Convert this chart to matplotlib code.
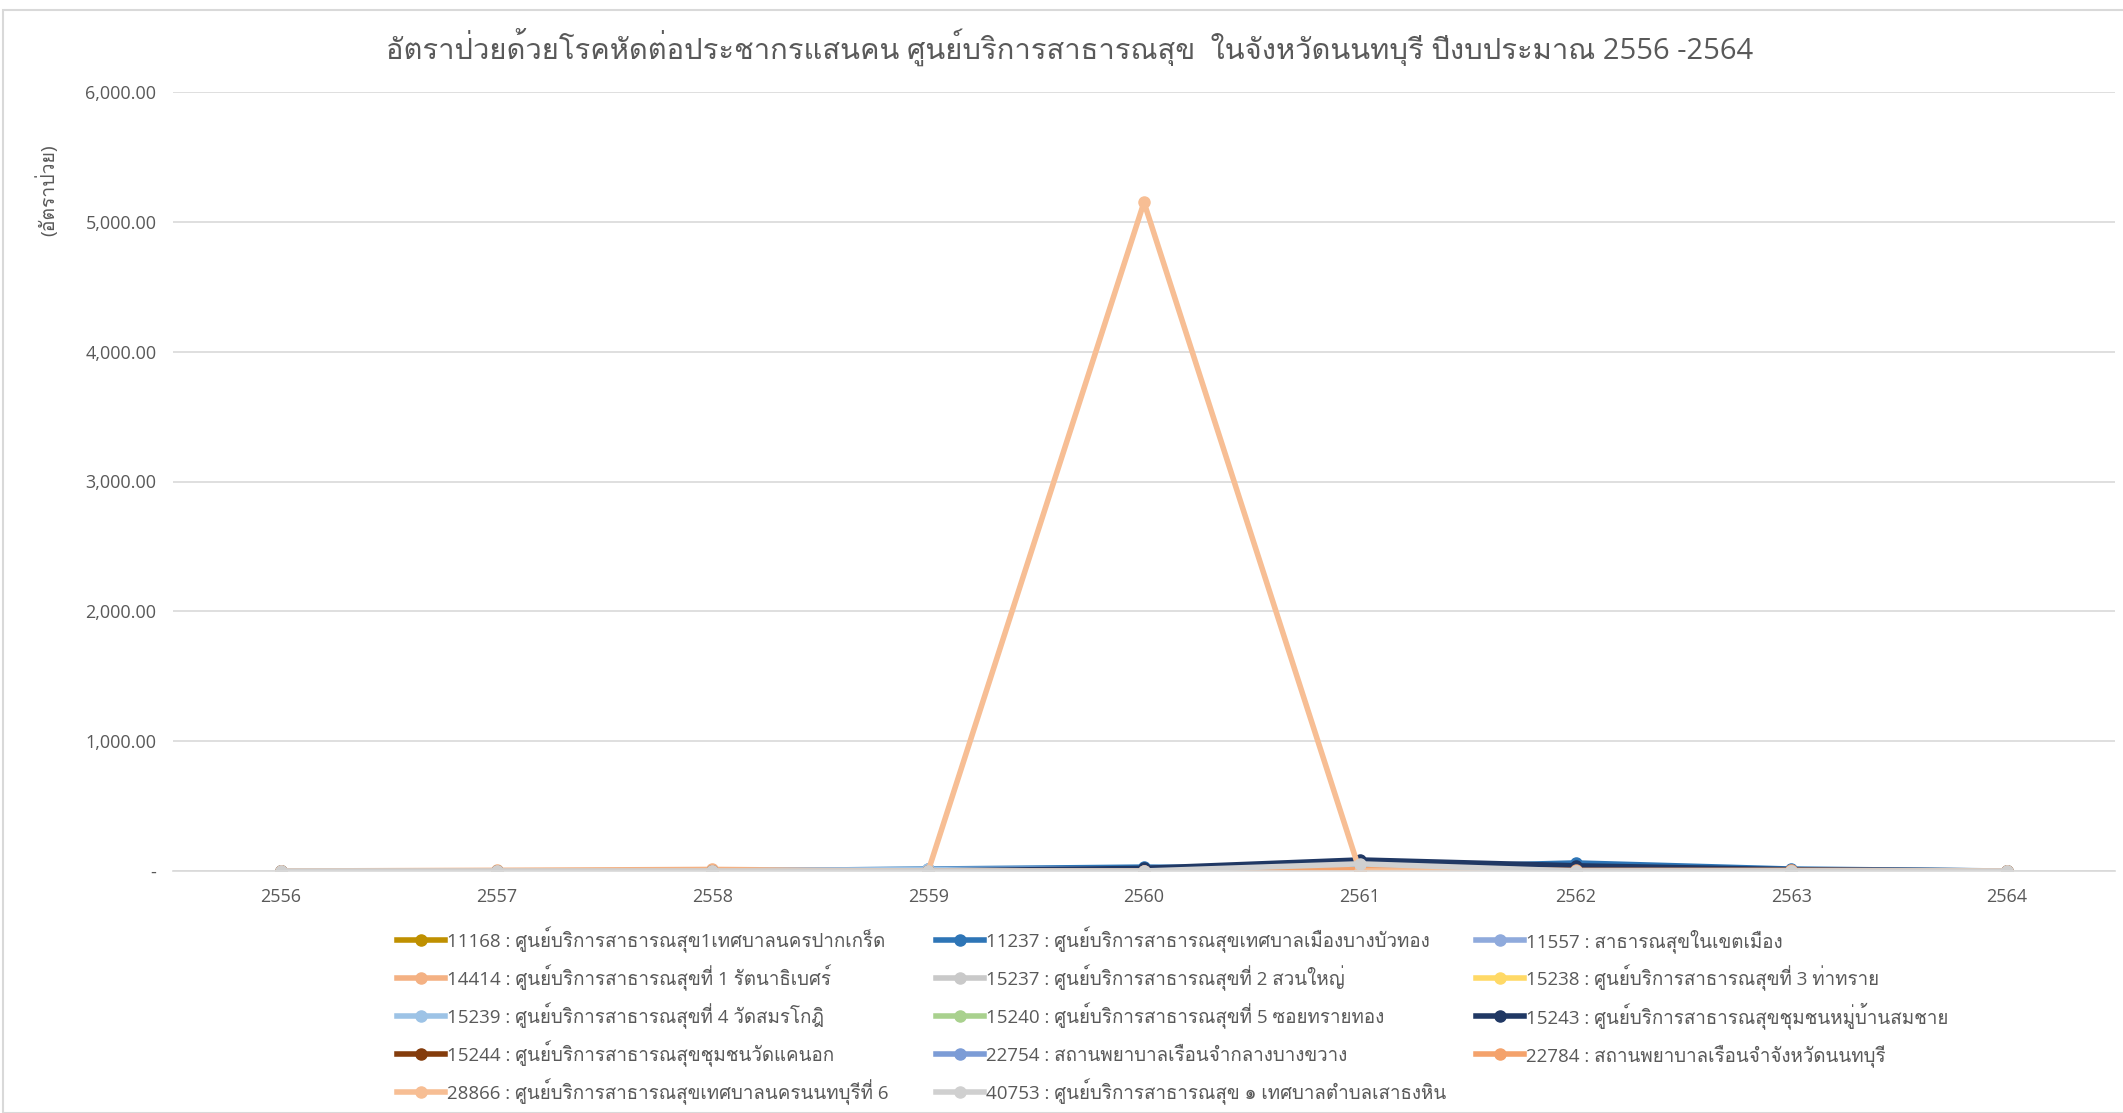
import matplotlib
matplotlib.use("Agg")
import matplotlib.pyplot as plt
from matplotlib.lines import Line2D
import numpy as np

plt.rcParams['font.family'] = ['Open Sans', 'Loma', 'DejaVu Sans']

years = ['2556', '2557', '2558', '2559', '2560', '2561', '2562', '2563', '2564']

labels = [
    '11168 : ศูนย์บริการสาธารณสุข1เทศบาลนครปากเกร็ด',
    '11237 : ศูนย์บริการสาธารณสุขเทศบาลเมืองบางบัวทอง',
    '11557 : สาธารณสุขในเขตเมือง',
    '14414 : ศูนย์บริการสาธารณสุขที่ 1 รัตนาธิเบศร์',
    '15237 : ศูนย์บริการสาธารณสุขที่ 2 สวนใหญ่',
    '15238 : ศูนย์บริการสาธารณสุขที่ 3 ท่าทราย',
    '15239 : ศูนย์บริการสาธารณสุขที่ 4 วัดสมรโกฎิ',
    '15240 : ศูนย์บริการสาธารณสุขที่ 5 ซอยทรายทอง',
    '15243 : ศูนย์บริการสาธารณสุขชุมชนหมู่บ้านสมชาย',
    '15244 : ศูนย์บริการสาธารณสุขชุมชนวัดแคนอก',
    '22754 : สถานพยาบาลเรือนจำกลางบางขวาง',
    '22784 : สถานพยาบาลเรือนจำจังหวัดนนทบุรี',
    '28866 : ศูนย์บริการสาธารณสุขเทศบาลนครนนทบุรีที่ 6',
    '40753 : ศูนย์บริการสาธารณสุข ๑ เทศบาลตำบลเสาธงหิน',
]

s11168 = [0, 0, 0, 0, 0, 0, 0, 0, 0]
s11237 = [0, 0, 0, 15, 30, 20, 62, 15, 0]
s11557 = [0, 0, 0, 10, 15, 10, 15, 5, 0]
s14414 = [0, 5, 12, 0, 0, 0, 0, 0, 0]
s15237 = [0, 0, 0, 0, 0, 0, 0, 0, 0]
s15238 = [0, 0, 0, 0, 0, 0, 0, 0, 0]
s15239 = [0, 0, 0, 12, 10, 10, 10, 5, 0]
s15240 = [0, 0, 0, 0, 0, 0, 0, 0, 0]
s15243 = [0, 0, 0, 0, 20, 85, 40, 10, 0]
s15244 = [0, 0, 0, 0, 0, 0, 0, 0, 0]
s22754 = [0, 0, 0, 0, 0, 0, 0, 0, 0]
s22784 = [0, 0, 0, 0, 0, 10, 5, 5, 0]
s28866 = [0, 0, 0, 0, 5150, 0, 0, 0, 0]
s40753 = [0, 0, 0, 0, 0, 55, 0, 0, 0]

series = [s11168, s11237, s11557, s14414, s15237, s15238, s15239,
          s15240, s15243, s15244, s22754, s22784, s28866, s40753]

colors = ['#BF9000', '#2E75B6', '#8FAADC', '#F4B183', '#C9C9C9', '#FFD966',
          '#9DC3E6', '#A9D18E', '#203864', '#843C0C', '#7C9CD6', '#F4A26B',
          '#F7BE94', '#D0D0D0']

W, H = 2123, 1113
fig = plt.figure(figsize=(W / 100, H / 100), dpi=100)
ax = fig.add_axes([173 / W, 1 - 871 / H, (2115 - 173) / W, (871 - 92) / H])

x = np.arange(len(years))
for vals, lab, c in zip(series, labels, colors):
    ax.plot(x, vals, color=c, lw=4, marker='o', ms=8, label=lab)

ax.set_xlim(-0.5, len(years) - 0.5)
ax.set_ylim(0, 6000)
ax.set_xticks(x)
ax.set_xticklabels(years)
ax.set_yticks(np.arange(0, 6001, 1000))
ax.set_yticklabels(['-'] + [f'{v:,.2f}' for v in range(1000, 6001, 1000)])
ax.tick_params(colors='#595959', labelsize=13, length=0, pad=12)
ax.grid(axis='y', color='#D9D9D9', lw=1.2)
ax.set_axisbelow(True)
for sp in ['top', 'right', 'left']:
    ax.spines[sp].set_visible(False)
ax.spines['bottom'].set_color('#D9D9D9')
ax.spines['bottom'].set_linewidth(1.2)

fig.text(0.504, 1 - 47 / H, 'อัตราป่วยด้วยโรคหัดต่อประชากรแสนคน ศูนย์บริการสาธารณสุข  ในจังหวัดนนทบุรี ปีงบประมาณ 2556 -2564',
         ha='center', va='center', fontsize=21, color='#595959')
fig.text(47 / W, 1 - 190 / H, '(อัตราป่วย)', rotation=90, ha='center', va='center',
         fontsize=14, color='#595959')

# legend, Excel style: filled row by row in three fixed columns
col_x = [397, 936, 1476]
row_y = [940, 978, 1016, 1054, 1092]
for i, (lab, c) in enumerate(zip(labels, colors)):
    cx = col_x[i % 3]
    ry = 1 - row_y[i // 3] / H
    fig.add_artist(Line2D([cx / W, (cx + 24) / W, (cx + 48) / W], [ry, ry, ry],
                          transform=fig.transFigure, color=c, lw=4,
                          marker='o', ms=8, markevery=[1]))
    fig.text((cx + 50) / W, ry - 7 / H, lab, ha='left', va='baseline',
             fontsize=13.5, color='#595959')

fig.patches.append(plt.Rectangle((3 / W, 0), 1, 1 - 10 / H, transform=fig.transFigure,
                                 fill=False, ec='#D9D9D9', lw=1.5))

fig.savefig('out.png', dpi=100)
